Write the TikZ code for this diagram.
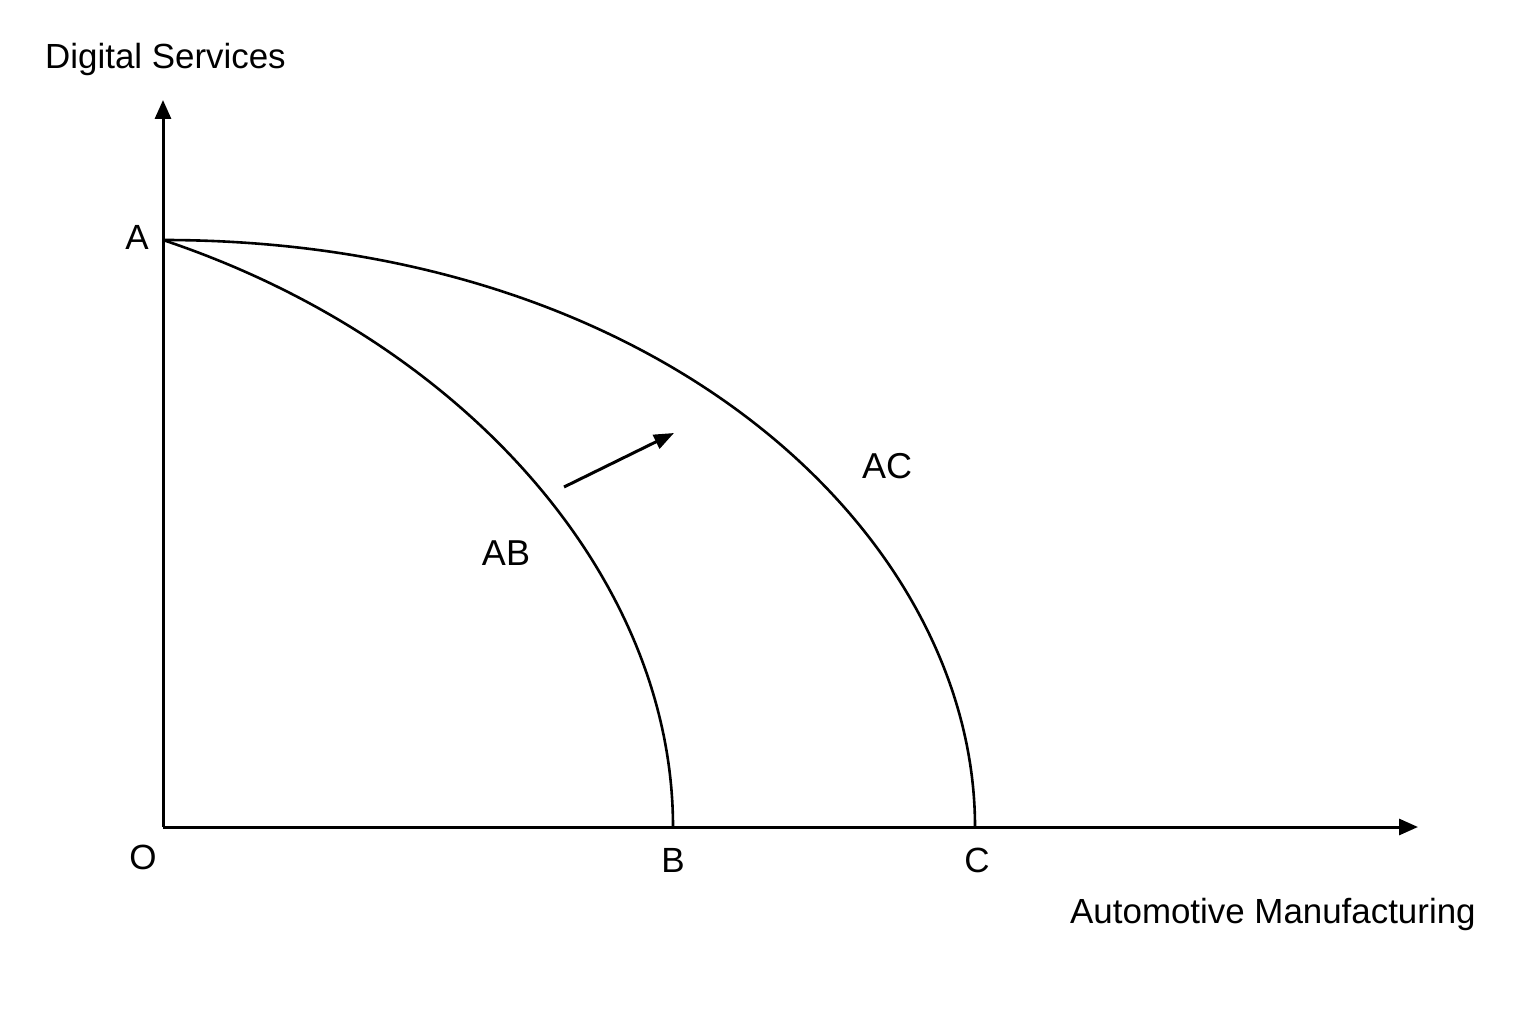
\documentclass[tikz,border=0pt]{standalone}
\usepackage{fontspec}
\setmainfont{Liberation Sans}
\usetikzlibrary{arrows.meta}
\begin{document}
\begin{tikzpicture}[x=1pt,y=-1pt,
  axis/.style={line width=3pt,-{Triangle[length=19pt,width=16pt]}},
  curve/.style={line width=2.6pt},
  shiftarrow/.style={line width=3pt,-{Triangle[length=20pt,width=15pt]}},
  title/.style={inner sep=0pt,font=\fontsize{34.9}{41}\selectfont},
  letter/.style={inner sep=0pt,font=\fontsize{35}{42}\selectfont},
  curvelabel/.style={inner sep=0pt,font=\fontsize{36}{43}\selectfont}]
\fill[white] (0,0) rectangle (1536,1024);
\useasboundingbox (0,0) rectangle (1536,1024);
% coordinates
\coordinate (O) at (163,827);
\coordinate (ytop) at (163,100);
\coordinate (xend) at (1418,827);
\coordinate (A) at (163,240);
\coordinate (B) at (673,827);
\coordinate (C) at (975,827);
\coordinate (s) at (564,487);
\coordinate (e) at (674,433);
% axes
\draw[axis] (O) -- (ytop);
\draw[axis] (O) -- (xend);
% frontiers
\draw[curve] (A) .. controls (463,340) and (673,577) .. (B);
\draw[curve] (A) .. controls (663,240) and (975,537) .. (C);
% shift arrow
\draw[shiftarrow] (s) -- (e);
% labels
\node[title,anchor=base west] (ylab) at (45,69) {Digital Services};
\node[title,anchor=base west] (xlab) at (1070,923) {Automotive Manufacturing};
\node[letter] (lA) at (137,237) {A};
\node[letter] (lO) at (143,857) {O};
\node[letter] (lB) at (673,860) {B};
\node[letter] (lC) at (977,860) {C};
\node[curvelabel] (lAB) at (506,553) {AB};
\node[curvelabel] (lAC) at (887,466) {AC};
\end{tikzpicture}
\end{document}
